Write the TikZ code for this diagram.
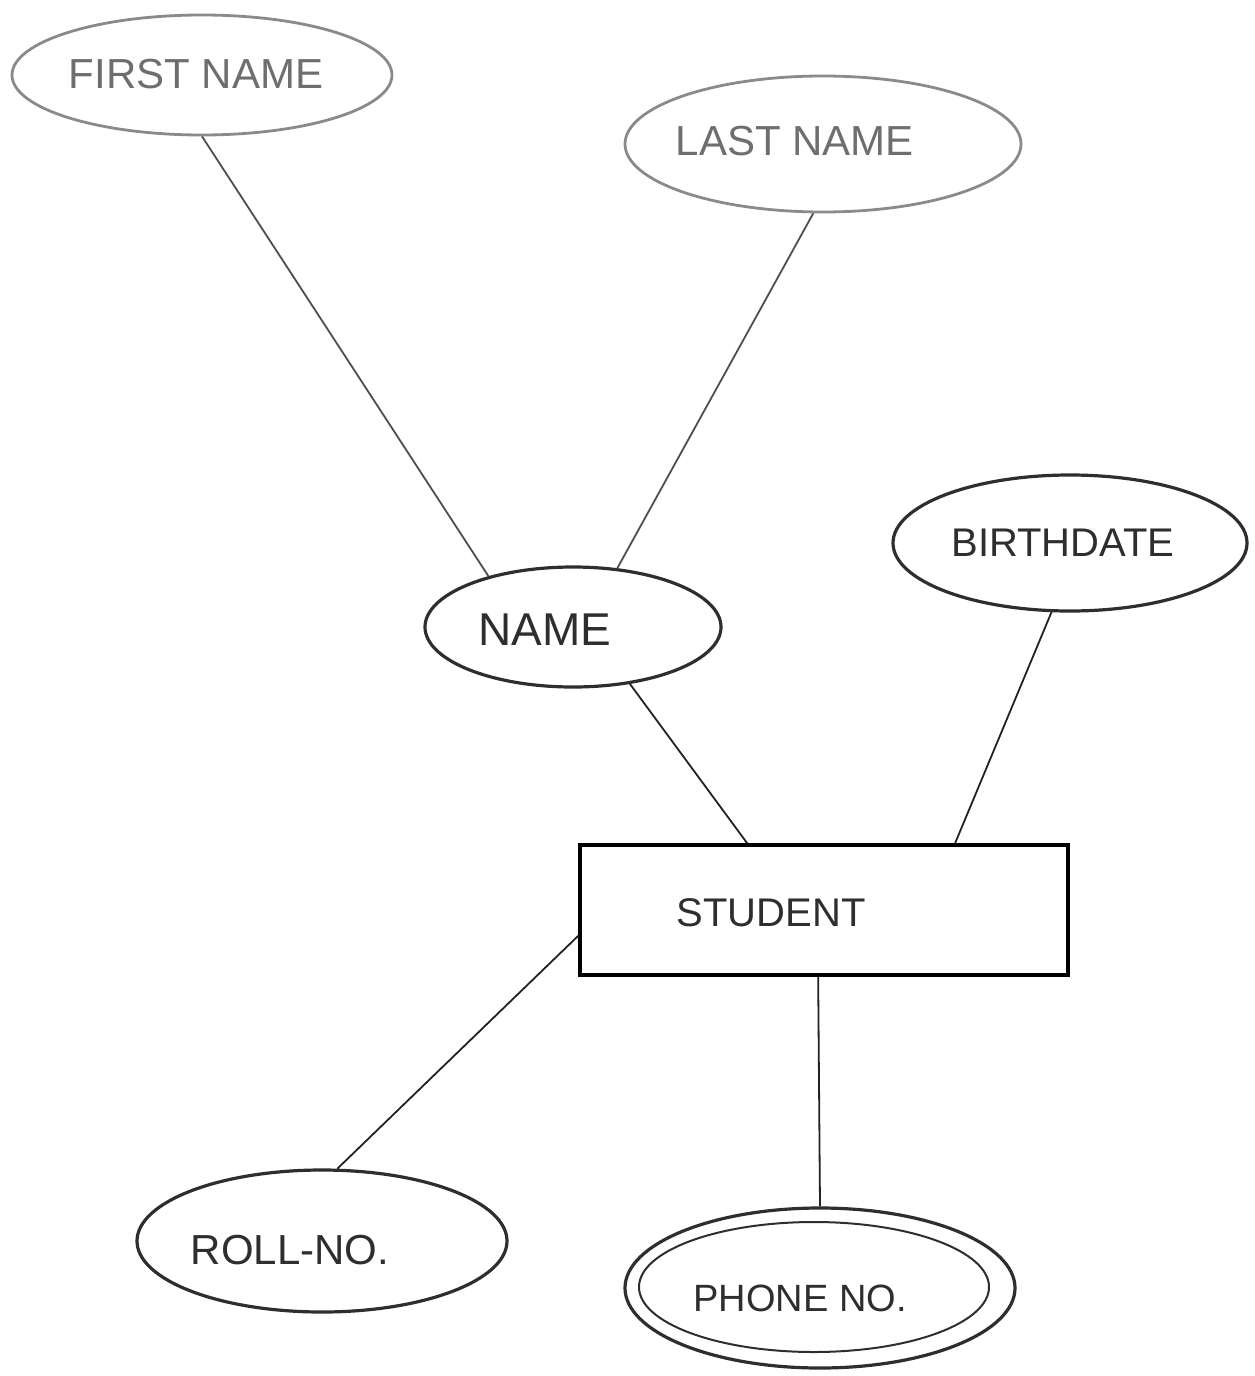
\documentclass[tikz,border=0pt]{standalone}
\usepackage{fontspec}
\setmainfont{Liberation Sans}
\usetikzlibrary{shapes.geometric}
\definecolor{inkdark}{HTML}{2E2E2E}
\definecolor{inklight}{HTML}{8A8A8A}
\definecolor{penline}{HTML}{222222}
\tikzset{
  attr/.style={ellipse, draw=inkdark, line width=1.6pt, inner sep=0pt},
  attrlight/.style={attr, line width=1.4pt, draw=inklight},
  entity/.style={rectangle, draw=black, line width=1.8pt, inner sep=0pt,
    minimum width=244pt, minimum height=65pt},
  lbl/.style={text=inkdark, inner sep=0pt, font=\fontsize{20}{24}\selectfont},
  lbllight/.style={lbl, text=inklight!80!black},
  link/.style={draw=penline, line width=0.9pt}
}
\begin{document}
\begin{tikzpicture}[x=0.5pt, y=-0.5pt]
  \useasboundingbox (0,0) rectangle (1254,1376);

  % attribute ellipses
  \node[attrlight, minimum width=190pt, minimum height=60pt] (fn) at (202,75) {};
  \node[attrlight, minimum width=198pt, minimum height=68pt] (ln) at (823,144) {};
  \node[attr, minimum width=148pt, minimum height=60pt] (nm) at (573,627) {};
  \node[attr, minimum width=177pt, minimum height=68pt] (bd) at (1070,543) {};
  \node[attr, minimum width=185pt, minimum height=71pt] (rn) at (322,1241) {};
  % multivalued attribute: double outline
  \node[attr, minimum width=195pt, minimum height=80pt] (ph) at (820,1288) {};
  \node[attr, line width=1pt, minimum width=175pt, minimum height=65pt] (phin) at (814,1287) {};

  % entity
  \node[entity] (st) at (824,910) {};

  % labels
  \node[lbllight, font=\fontsize{21}{24}\selectfont] (fnT) at (196,74) {FIRST NAME};
  \node[lbllight, font=\fontsize{21}{24}\selectfont] (lnT) at (795,141) {LAST NAME};
  \node[lbl, font=\fontsize{23}{26}\selectfont] (nmT) at (545,630) {NAME};
  \node[lbl, font=\fontsize{20}{24}\selectfont] (bdT) at (1063,543) {BIRTHDATE};
  \node[lbl, font=\fontsize{20}{24}\selectfont] (stT) at (771,913) {STUDENT};
  \node[lbl, font=\fontsize{21}{24}\selectfont] (rnT) at (290,1250) {ROLL-NO.};
  \node[lbl, font=\fontsize{19}{22}\selectfont] (phT) at (800,1298) {PHONE NO.};

  % connectors
  \draw[link, draw=penline!80] (fn.south) -- (nm.149);
  \draw[link, draw=penline!80] (ln.-98) -- (nm.53);
  \draw[link] (nm.-45) -- (st.139);
  \draw[link] (bd.-105) -- (st.27);
  \draw[link] (st.186) -- (rn.78);
  \draw[link] (st.-95) -- (ph.north);
\end{tikzpicture}
\end{document}
